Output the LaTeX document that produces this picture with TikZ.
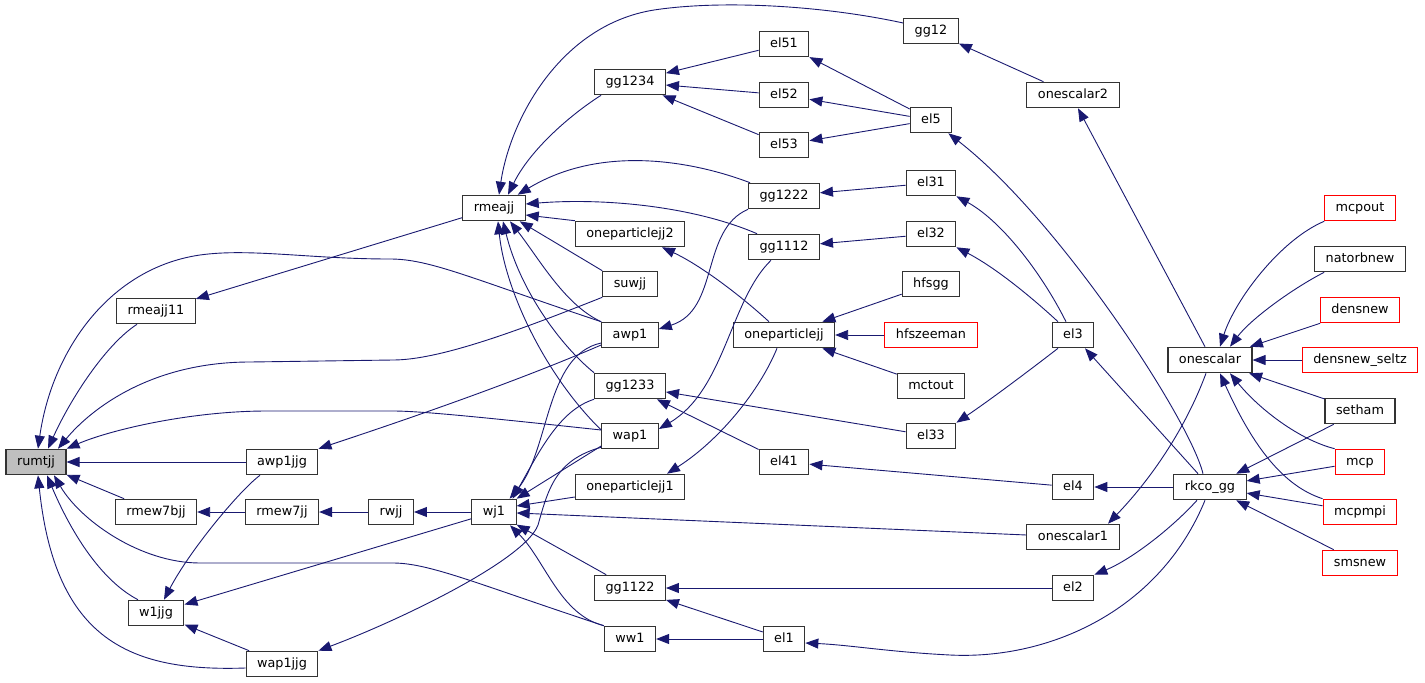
\documentclass[tikz,border=0pt]{standalone}
\usepackage{fontspec}
\setmainfont{DejaVu Sans}
\usetikzlibrary{positioning,arrows.meta}
\definecolor{edgeblue}{HTML}{191970}
\definecolor{rootgray}{HTML}{BFBFBF}

\begin{document}
\begin{tikzpicture}[x=1pt,y=-1pt,on grid,
    fn/.style={draw=black!80,line width=1.1pt,fill=white,inner xsep=11pt,inner ysep=0pt,
      minimum height=25.5pt,text height=9.3pt,text depth=2.7pt,font=\fontsize{12.8}{15}\selectfont},
    fnred/.style={fn,draw=red},
    fnroot/.style={fn,fill=rootgray},
    call/.style={draw=edgeblue,line width=0.9pt,-{Triangle[length=13pt,width=10pt]}}]
            \useasboundingbox (0,0) rectangle (1425,683);
            \node[fnroot] (rumtjj) at (36,462) {rumtjj};
            \node[fn, above right=151pt and 120pt of rumtjj] (rmeajj11) {rmeajj11};
            \node[fn, right=246pt of rumtjj] (awp1jjg) {awp1jjg};
            \node[fn, below right=50pt and 120pt of rumtjj] (rmew7bjj) {rmew7bjj};
            \node[fn, right=126pt of rmew7bjj] (rmew7jj) {rmew7jj};
            \node[fn, right=109pt of rmew7jj] (rwjj) {rwjj};
            \node[fn, right=103pt of rwjj] (wj1) {wj1};
            \node[fn, below=101pt of rmew7bjj] (w1jjg) {w1jjg};
            \node[fn, below=152pt of rmew7jj] (wap1jjg) {wap1jjg};
            \node[fn, above=304pt of wj1] (rmeajj) {rmeajj};

            \node[fn, above right=177pt and 136pt of wj1] (awp1) {awp1};
            \node[fn, above=253pt of awp1] (gg1234) {gg1234};
            \node[fn, above=101pt of awp1] (oneparticlejj2) {oneparticlejj2};
            \node[fn, above=51pt of awp1] (suwjj) {suwjj};
            \node[fn, below=51pt of awp1] (gg1233) {gg1233};
            \node[fn, below=101pt of awp1] (wap1) {wap1};
            \node[fn, below=152pt of awp1] (oneparticlejj1) {oneparticlejj1};
            \node[fn, below=253pt of awp1] (gg1122) {gg1122};
            \node[fn, below=304pt of awp1] (ww1) {ww1};

            \node[fn, right=154pt of awp1] (oneparticlejj) {oneparticlejj};
            \node[fn, above=291pt of oneparticlejj] (el51) {el51};
            \node[fn, above=240pt of oneparticlejj] (el52) {el52};
            \node[fn, above=190pt of oneparticlejj] (el53) {el53};
            \node[fn, above=139pt of oneparticlejj] (gg1222) {gg1222};
            \node[fn, above=88pt of oneparticlejj] (gg1112) {gg1112};
            \node[fn, below=127pt of oneparticlejj] (el41) {el41};
            \node[fn, below=304pt of oneparticlejj] (el1) {el1};

            \node[fnred, right=147pt of oneparticlejj] (hfszeeman) {hfszeeman};
            \node[fn, above=304pt of hfszeeman] (gg12) {gg12};
            \node[fn, above=215pt of hfszeeman] (el5) {el5};
            \node[fn, above=152pt of hfszeeman] (el31) {el31};
            \node[fn, above=101pt of hfszeeman] (el32) {el32};
            \node[fn, above=51pt of hfszeeman] (hfsgg) {hfsgg};
            \node[fn, below=51pt of hfszeeman] (mctout) {mctout};
            \node[fn, below=101pt of hfszeeman] (el33) {el33};

            \node[fn, right=142pt of hfszeeman] (el3) {el3};
            \node[fn, above=240pt of el3] (onescalar2) {onescalar2};
            \node[fn, below=152pt of el3] (el4) {el4};
            \node[fn, below=202pt of el3] (onescalar1) {onescalar1};
            \node[fn, below=253pt of el3] (el2) {el2};

            \node[fn, below right=25pt and 137pt of el3] (onescalar) {onescalar};
            \node[fn, below=127pt of onescalar] (rkco_gg) {rkco\_gg};

            \node[fnred, right=150pt of onescalar] (densnew_seltz) {densnew\_seltz};
            \node[fnred, above=152pt of densnew_seltz] (mcpout) {mcpout};
            \node[fn, above=101pt of densnew_seltz] (natorbnew) {natorbnew};
            \node[fnred, above=50pt of densnew_seltz] (densnew) {densnew};
            \node[fn, below=51pt of densnew_seltz] (setham) {setham};
            \node[fnred, below=102pt of densnew_seltz] (mcp) {mcp};
            \node[fnred, below=152pt of densnew_seltz] (mcpmpi) {mcpmpi};
            \node[fnred, below=203pt of densnew_seltz] (smsnew) {smsnew};

            \draw[call] (awp1.north west) .. controls (470,278) and (430,259) .. (390,259) .. controls (310,259) and (250,248) .. (200,255) .. controls (110,268) and (52,350) .. ([xshift=2pt]rumtjj.north);
            \draw[call] ([xshift=-19pt]rmeajj11.south) .. controls (105,345) and (70,400) .. ([xshift=12pt]rumtjj.north);
            \draw[call] (suwjj.south west) .. controls (520,330) and (440,360) .. (393,360) -- (250,362) .. controls (150,362) and (90,410) .. ([xshift=22pt]rumtjj.north);
            \draw[call] ([yshift=6pt]wap1.west) .. controls (480,417) and (420,411) .. (393,411) -- (267,411) .. controls (190,411) and (110,430) .. (rumtjj.north east);
            \draw[call] (awp1jjg) -- (rumtjj);
            \draw[call] (rmew7bjj) -- (rumtjj);
            \draw[call] ([xshift=-18pt]w1jjg.north) .. controls (100,580) and (70,530) .. ([xshift=11pt]rumtjj.south);
            \draw[call] (ww1.north west) .. controls (480,585) and (430,563) .. (393,563) -- (200,563) .. controls (140,563) and (80,520) .. ([xshift=18pt]rumtjj.south);
            \draw[call] ([yshift=-4pt]wap1jjg.west) .. controls (130,672) and (55,640) .. ([xshift=2pt]rumtjj.south);

            \draw[call] (rmeajj) -- (rmeajj11);
            \draw[call] ([yshift=-10pt]awp1.west) .. controls (520,380) and (420,415) .. (awp1jjg.north east);
            \draw[call] ([xshift=-22pt]awp1jjg.south) .. controls (240,490) and (190,550) .. ([xshift=8pt]w1jjg.north);
            \draw[call] (wj1) -- (w1jjg);
            \draw[call] (wap1jjg) -- (w1jjg);
            \draw[call] ([yshift=2pt]wap1.south west) .. controls (555,460) and (548,490) .. (538,525) .. controls (525,560) and (400,620) .. (wap1jjg.north east);
            \draw[call] (rmew7jj) -- (rmew7bjj);
            \draw[call] (rwjj) -- (rmew7jj);
            \draw[call] (wj1) -- (rwjj);

            \draw[call] ([yshift=8pt]gg12.west) .. controls (820,5) and (720,0) .. (654,10) .. controls (560,25) and (510,120) .. ([xshift=5pt]rmeajj.north);
            \draw[call] ([xshift=7pt]gg1234.south west) .. controls (570,115) and (530,150) .. ([xshift=14pt]rmeajj.north);
            \draw[call] ([xshift=2pt]gg1222.north west) .. controls (690,160) and (600,145) .. ([xshift=-8pt]rmeajj.north east);
            \draw[call] ([xshift=9pt]gg1112.north west) .. controls (690,205) and (600,198) .. ([yshift=4pt]rmeajj.east);
            \draw[call] (oneparticlejj2.north west) -- ([yshift=-7pt]rmeajj.east);
            \draw[call] (suwjj.north west) -- ([xshift=-6pt]rmeajj.south east);
            \draw[call] (awp1.north west) .. controls (565,305) and (540,260) .. ([xshift=16pt]rmeajj.south);
            \draw[call] (gg1233.north west) .. controls (560,345) and (520,290) .. ([xshift=9pt]rmeajj.south);
            \draw[call] ([yshift=6pt]wap1.west) .. controls (545,375) and (505,290) .. ([xshift=4pt]rmeajj.south);

            \draw[call] (el51) -- (gg1234);
            \draw[call] (el52) -- (gg1234);
            \draw[call] (el53) -- (gg1234);
            \draw[call] (el5) -- (el51);
            \draw[call] (el5) -- (el52);
            \draw[call] (el5) -- (el53);
            \draw[call] (onescalar2) -- (gg12);
            \draw[call] ([xshift=-7pt]rkco_gg.north) .. controls (1190,420) and (1060,220) .. ([xshift=-4pt]el5.south east);
            \draw[call] (el31) -- (gg1222);
            \draw[call] (el32) -- (gg1112);
            \draw[call] ([xshift=-7pt]el3.north) .. controls (1040,270) and (1000,220) .. (el31.south east);
            \draw[call] ([xshift=-15pt]el3.north) .. controls (1040,305) and (1000,270) .. (el32.south east);

            \draw[call] ([xshift=-15pt]oneparticlejj.north) .. controls (740,295) and (700,265) .. ([xshift=32pt]oneparticlejj2.south);
            \draw[call] (gg1222.south west) .. controls (700,230) and (720,310) .. ([yshift=6pt]awp1.east);
            \draw[call] ([xshift=-13pt]gg1112.south) .. controls (730,300) and (725,390) .. ([yshift=7pt]wap1.east);
            \draw[call] (hfsgg) -- (oneparticlejj);
            \draw[call] (hfszeeman) -- (oneparticlejj);
            \draw[call] (mctout) -- (oneparticlejj);
            \draw[call] (el33) -- (gg1233);
            \draw[call] (el41) -- (gg1233);
            \draw[call] ([xshift=-15pt]el3.south) .. controls (1030,370) and (990,400) .. (el33.north east);
            \draw[call] (el4) -- (el41);
            \draw[call] ([xshift=-7pt]oneparticlejj.south) .. controls (760,390) and (720,440) .. ([xshift=37pt]oneparticlejj1.north);

            \draw[call] ([yshift=-8pt]awp1.west) .. controls (545,355) and (550,450) .. ([xshift=-7pt]wj1.north east);
            \draw[call] (gg1233.south west) .. controls (560,410) and (540,450) .. ([xshift=-4pt]wj1.north east);
            \draw[call] ([yshift=-10pt]wap1.west) -- (wj1.north east);
            \draw[call] ([yshift=-10pt]oneparticlejj1.west) -- ([yshift=6pt]wj1.east);
            \draw[call] (onescalar1) -- (wj1);
            \draw[call] (gg1122) -- (wj1);
            \draw[call] (ww1.north west) .. controls (560,615) and (545,560) .. ([xshift=16pt]wj1.south);

            \draw[call] (el2) -- (gg1122);
            \draw[call] (el1) -- (gg1122);
            \draw[call] (el1) -- (ww1);
            \draw[call] ([xshift=-5pt]rkco_gg.south) .. controls (1160,610) and (1050,660) .. (950,655) .. controls (890,652) and (850,645) .. ([yshift=-4pt]el1.east);
            \draw[call] ([xshift=-13pt]rkco_gg.south) .. controls (1170,530) and (1130,560) .. (el2.north east);
            \draw[call] (rkco_gg) -- (el3);
            \draw[call] (rkco_gg) -- (el4);
            \draw[call] ([xshift=-4pt]onescalar.south) .. controls (1185,430) and (1150,480) .. ([xshift=35pt]onescalar1.north);
            \draw[call] ([xshift=-5pt]onescalar.north) -- ([xshift=5pt]onescalar2.south);

            \draw[call] (mcpout.south west) .. controls (1280,240) and (1235,300) .. ([xshift=10pt]onescalar.north);
            \draw[call] ([xshift=10pt]natorbnew.south west) .. controls (1290,290) and (1250,320) .. ([xshift=20pt]onescalar.north);
            \draw[call] (densnew) -- (onescalar);
            \draw[call] (densnew_seltz) -- (onescalar);
            \draw[call] (setham) -- (onescalar);
            \draw[call] (mcp.north west) .. controls (1300,440) and (1260,410) .. ([xshift=20pt]onescalar.south);
            \draw[call] (mcpmpi.north west) .. controls (1280,485) and (1250,440) .. ([xshift=10pt]onescalar.south);
            \draw[call] (setham) -- (rkco_gg);
            \draw[call] (mcp) -- (rkco_gg);
            \draw[call] (mcpmpi) -- (rkco_gg);
            \draw[call] (smsnew) -- (rkco_gg);
        \end{tikzpicture}
\end{document}
